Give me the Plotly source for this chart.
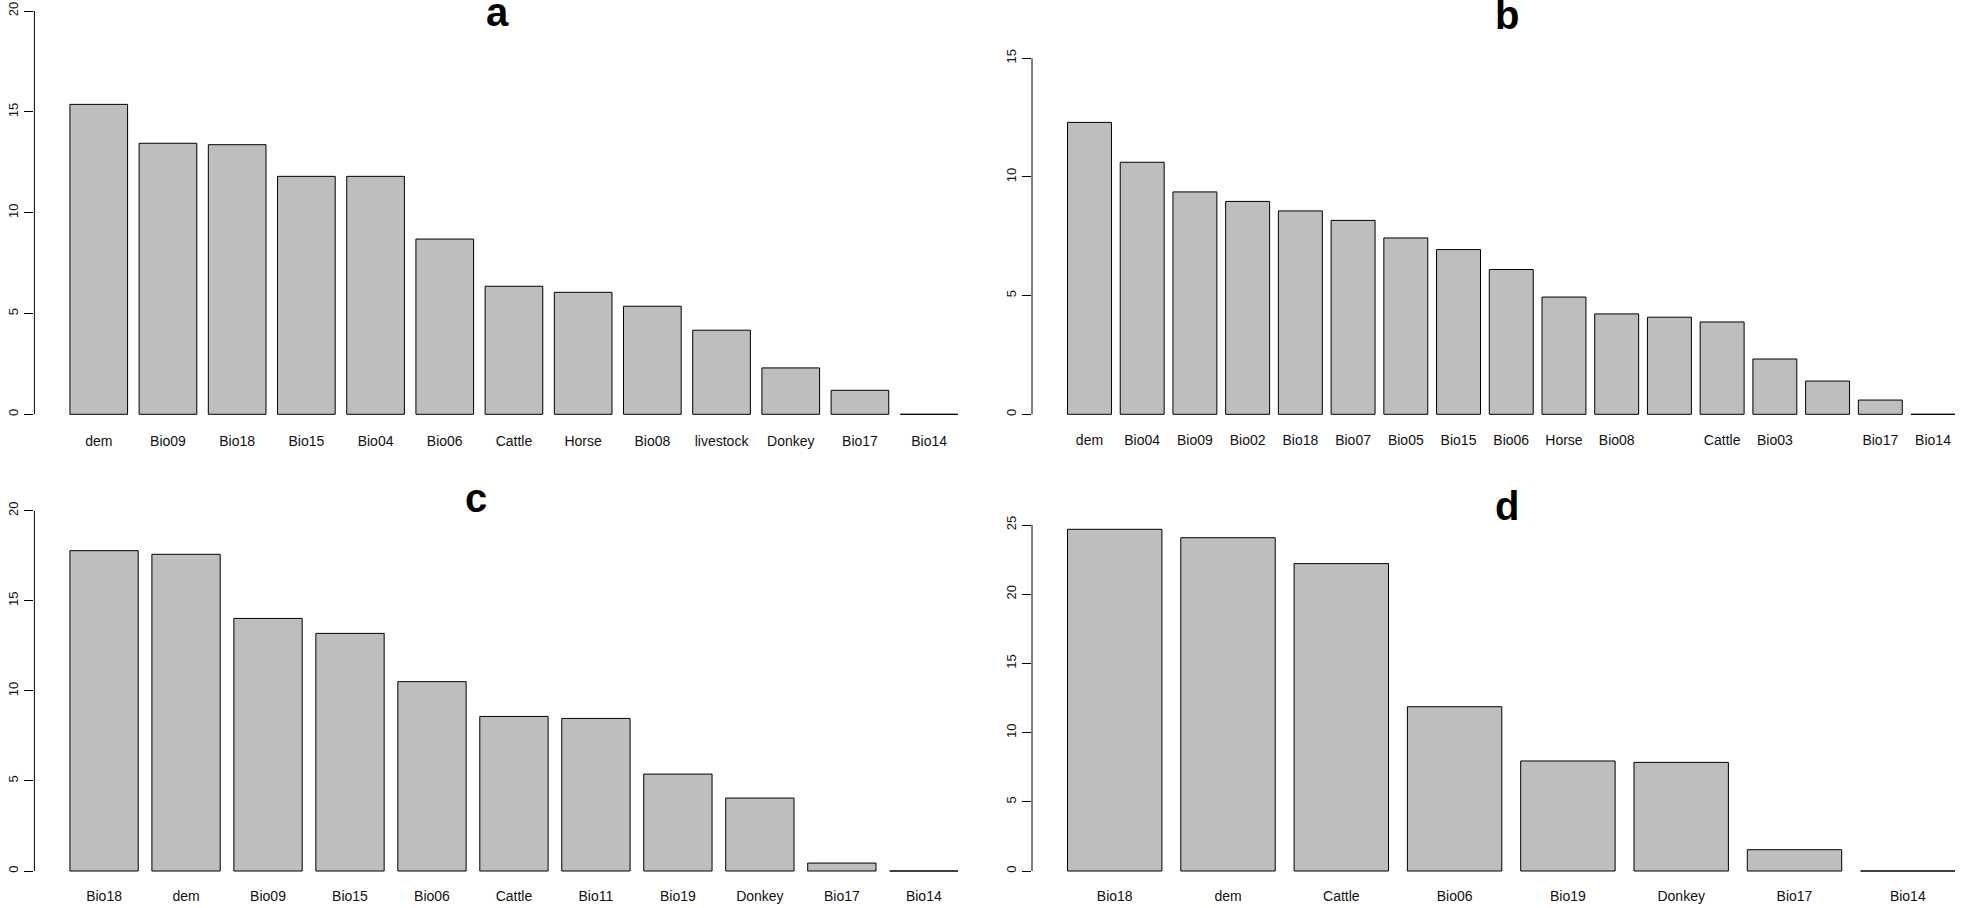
import plotly.graph_objects as go

# ---------------- data ----------------
a_labels = ["dem", "Bio09", "Bio18", "Bio15", "Bio04", "Bio06", "Cattle", "Horse",
            "Bio08", "livestock", "Donkey", "Bio17", "Bio14"]
a_values = [15.37, 13.44, 13.37, 11.80, 11.80, 8.69, 6.35, 6.05, 5.36, 4.17, 2.30, 1.19, 0.0]

# two labels of panel b are not printed in the reference (overlap suppression)
b_labels = ["dem", "Bio04", "Bio09", "Bio02", "Bio18", "Bio07", "Bio05", "Bio15", "Bio06",
            "Horse", "Bio08", "", "Cattle", "Bio03", "", "Bio17", "Bio14"]
b_values = [12.30, 10.62, 9.37, 8.97, 8.57, 8.17, 7.43, 6.94, 6.10, 4.94, 4.23, 4.09,
            3.89, 2.33, 1.40, 0.60, 0.0]

c_labels = ["Bio18", "dem", "Bio09", "Bio15", "Bio06", "Cattle", "Bio11", "Bio19",
            "Donkey", "Bio17", "Bio14"]
c_values = [17.78, 17.58, 14.02, 13.19, 10.51, 8.58, 8.47, 5.38, 4.05, 0.44, 0.0]

d_labels = ["Bio18", "dem", "Cattle", "Bio06", "Bio19", "Donkey", "Bio17", "Bio14"]
d_values = [24.69, 24.08, 22.21, 11.87, 7.95, 7.85, 1.54, 0.0]

panel_titles = ["a", "b", "c", "d"]
y_tops = [20, 15, 20, 25]

# ---------------- layout geometry (pixels) ----------------
W, H = 1961, 908
FONT = "Liberation Sans, Arial, Helvetica, sans-serif"

geom = [
    # plot-region left, right, pixel of y=0, pixel of y=top, title x, title y (glyph centre)
    dict(x0=34.4, x1=993.5, y0=414.3, yt=11.0, tx=497.5, ty=15.7),
    dict(x0=1032.0, x1=1990.5, y0=414.3, yt=58.3, tx=1506.7, ty=18.3),
    dict(x0=34.4, x1=993.5, y0=871.0, yt=510.7, tx=476.0, ty=501.7),
    dict(x0=1032.0, x1=1990.5, y0=871.0, yt=525.0, tx=1507.0, ty=509.0),
]

datasets = [(a_labels, a_values), (b_labels, b_values), (c_labels, c_values), (d_labels, d_values)]

fig = go.Figure()
annotations = []
shapes = []

for i, ((labels, values), g, top, title) in enumerate(zip(datasets, geom, y_tops, panel_titles), start=1):
    n = len(values)
    xs = list(range(n))
    xa = "x" if i == 1 else f"x{i}"
    ya = "y" if i == 1 else f"y{i}"
    fig.add_trace(go.Bar(
        x=xs, y=values, xaxis=xa, yaxis=ya,
        marker=dict(color="#BEBEBE", line=dict(color="black", width=1)),
        showlegend=False, hoverinfo="skip",
    ))

    # x range emulating R barplot (space=0.2, 4% padding)
    L = 1.2 * n - 0.2
    r_left = (-0.5 - 0.04 * L) / 1.2
    r_right = (n - 1) - r_left
    ppi = (g["x1"] - g["x0"]) / (r_right - r_left)
    x1 = g["x1"]
    if x1 > W:
        r_right = r_left + (W - g["x0"]) / ppi
        x1 = W
    # y range
    ppu = (g["y0"] - g["yt"]) / top
    y_lo = -0.04 * top
    bottom_px = g["y0"] - y_lo * ppu
    top_px = max(g["yt"] - 4, 0)
    y_hi = (g["y0"] - top_px) / ppu

    fig.layout[("xaxis" if i == 1 else f"xaxis{i}")] = dict(
        domain=[g["x0"] / W, x1 / W], range=[r_left, r_right], anchor=ya,
        showgrid=False, zeroline=False, showline=False, ticks="", automargin=False,
        tickmode="array", tickvals=xs, ticktext=labels,
        tickfont=dict(family=FONT, size=14, color="#111111"),
        ticklabelstandoff=1,
    )
    fig.layout[("yaxis" if i == 1 else f"yaxis{i}")] = dict(
        domain=[1 - bottom_px / H, 1 - top_px / H], range=[y_lo, y_hi], anchor=xa,
        showgrid=False, zeroline=False, showline=False, automargin=False,
        ticks="outside", ticklen=9, tickwidth=1, tickcolor="black",
        tickmode="array", tickvals=list(range(0, top + 1, 5)),
        tickangle=-90, tickfont=dict(family=FONT, size=13, color="#111111"),
        ticklabelstandoff=1,
    )
    shapes.append(dict(type="line", xref=f"{xa} domain", x0=0, x1=0,
                       yref=ya, y0=0, y1=top, line=dict(color="black", width=1)))
    annotations.append(dict(text=f"<b>{title}</b>", xref="paper", yref="paper",
                            x=g["tx"] / W, y=1 - (g["ty"] - 3.5) / H,
                            xanchor="center", yanchor="middle",
                            showarrow=False, font=dict(family=FONT, size=40, color="black")))

fig.update_layout(
    template="none",
    width=W, height=H, margin=dict(l=0, r=0, t=0, b=0, pad=0),
    paper_bgcolor="white", plot_bgcolor="white",
    bargap=1 - 1 / 1.2, annotations=annotations, shapes=shapes,
)

# the page's default 8px body margin would shift the figure; remove it
fig.write_html("out.html",
               config={"displayModeBar": False},
               post_script="document.body.style.margin='0';document.body.style.overflow='hidden';")
